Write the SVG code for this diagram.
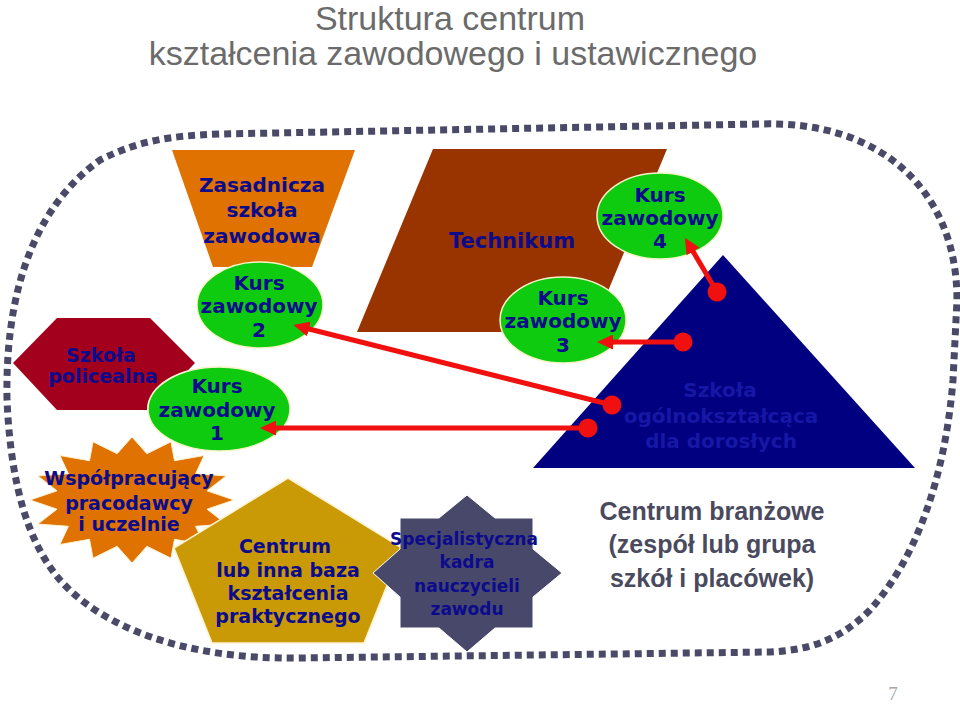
<svg xmlns="http://www.w3.org/2000/svg" width="960" height="705" viewBox="0 0 960 705">
<defs>
<style>
.t{font-family:"DejaVu Sans","Verdana",sans-serif;font-weight:bold;fill:#0B0B8C;text-anchor:middle}
.title{font-family:"Liberation Sans",Arial,sans-serif;font-size:34px;fill:#6B6B6B;text-anchor:middle}
.kurs{fill:#0FCB0F;stroke:#F4F4C8;stroke-width:1.5}
.conn{stroke:#F01010;stroke-width:5;fill:none;marker-start:url(#dot);marker-end:url(#arr)}
</style>
<marker id="arr" markerUnits="userSpaceOnUse" markerWidth="16" markerHeight="15" viewBox="0 0 16 15" refX="4" refY="7.5" orient="auto"><path d="M0,0 L16,7.5 L0,15 Z" fill="#F01010"/></marker>
<marker id="dot" markerUnits="userSpaceOnUse" markerWidth="20" markerHeight="20" viewBox="0 0 20 20" refX="10" refY="10" orient="auto"><circle cx="10" cy="10" r="9.5" fill="#F01010"/></marker>
<clipPath id="noK1"><path clip-rule="evenodd" d="M0,0 H960 V705 H0 Z M147,409 a72,43 0 1,0 144,0 a72,43 0 1,0 -144,0 Z"/></clipPath>
</defs>
<rect width="960" height="705" fill="#FFFFFF"/>
<g id="title">
<text class="title" x="450" y="30">Struktura centrum</text>
<text class="title" x="453" y="65">kształcenia zawodowego i ustawicznego</text>
</g>
<g id="border">
<path d="M 7 400 C 5 300, 30 210, 100 160 C 140 140, 170 136, 220 134 L 760 124 C 880 120, 957 190, 957 300 L 953 380 C 945 480, 915 560, 870 610 C 840 640, 810 650, 770 652 L 300 658 C 180 660, 100 625, 60 580 C 30 545, 11 490, 7 400 Z" fill="none" stroke="#4A4A68" stroke-width="7" stroke-dasharray="7 5"/>
</g>
<g id="zasadnicza">
<polygon points="172,150 355,150 312,267 213,267" fill="#DF7200"/>
<text class="t" font-size="20" x="262" y="192">Zasadnicza</text>
<text class="t" font-size="20" x="262" y="217">szkoła</text>
<text class="t" font-size="20" x="262" y="243">zawodowa</text>
</g>
<g id="technikum">
<polygon points="433,149 667,149 591,332 357,332" fill="#993300"/>
<text class="t" font-size="21" x="512" y="248">Technikum</text>
</g>
<g id="kurs2">
<ellipse class="kurs" cx="260" cy="305" rx="63" ry="43"/>
<text class="t" font-size="20" x="259" y="290">Kurs</text>
<text class="t" font-size="20" x="259" y="313">zawodowy</text>
<text class="t" font-size="20" x="259" y="337">2</text>
</g>
<g id="kurs1">
<ellipse class="kurs" cx="219" cy="409" rx="71" ry="42"/>
<text class="t" font-size="20" x="217" y="393">Kurs</text>
<text class="t" font-size="20" x="217" y="417">zawodowy</text>
<text class="t" font-size="20" x="217" y="440">1</text>
</g>
<g id="policealna">
<polygon points="13,363 57,318 150,318 195,363 150,410 57,410" fill="#A3001E" clip-path="url(#noK1)"/>
<text class="t" font-size="19" x="101" y="362">Szkoła</text>
<text class="t" font-size="19" x="103" y="383">policealna</text>
</g>
<g id="trojkat">
<polygon points="723,255 915,468 533,468" fill="#000080"/>
<text class="t" font-size="20" x="720" y="397" style="fill:#1717A6">Szkoła</text>
<text class="t" font-size="20" x="721" y="423" style="fill:#1717A6">ogólnokształcąca</text>
<text class="t" font-size="20" x="721" y="448" style="fill:#1717A6">dla dorosłych</text>
</g>
<g id="kurs3">
<ellipse class="kurs" cx="563" cy="320" rx="63" ry="43"/>
<text class="t" font-size="20" x="563" y="305">Kurs</text>
<text class="t" font-size="20" x="563" y="328">zawodowy</text>
<text class="t" font-size="20" x="563" y="352">3</text>
</g>
<g id="kurs4">
<ellipse class="kurs" cx="660" cy="216" rx="63" ry="43"/>
<text class="t" font-size="20" x="660" y="202">Kurs</text>
<text class="t" font-size="20" x="660" y="225">zawodowy</text>
<text class="t" font-size="20" x="660" y="248">4</text>
</g>
<g id="wspolpracujacy">
<polygon points="132,437 146.9,453.7 171,441.8 174.5,460.7 204.1,455.5 195.6,473.7 226.2,475.9 207,490.8 234,500 207,509.2 226.2,524.1 195.6,526.3 204.1,544.5 174.5,539.3 171,558.2 146.9,546.3 132,563 117.1,546.3 93,558.2 89.5,539.3 59.9,544.5 68.4,526.3 37.8,524.1 57,509.2 30,500 57,490.8 37.8,475.9 68.4,473.7 59.9,455.5 89.5,460.7 93,441.8 117.1,453.7" fill="#DF7200" stroke="#FFF2D0" stroke-width="1"/>
<text class="t" font-size="19" x="129" y="485">Współpracujący</text>
<text class="t" font-size="19" x="129" y="510">pracodawcy</text>
<text class="t" font-size="19" x="129" y="531">i uczelnie</text>
</g>
<g id="centrum">
<polygon points="288,478 402,548 364,643 212,643 174,548" fill="#C99A05" stroke="#FFF2D0" stroke-width="1.5"/>
<text class="t" font-size="19" x="285" y="553">Centrum</text>
<text class="t" font-size="19" x="288" y="577">lub inna baza</text>
<text class="t" font-size="19" x="288" y="600">kształcenia</text>
<text class="t" font-size="19" x="288" y="623">praktycznego</text>
</g>
<g id="kadra">
<polygon points="467,495 495,518 533,518 533,549 562,573 533,597 533,628 495,628 467,652 439,628 400,628 400,597 373,573 400,549 400,518 439,518" fill="#48486A" stroke="#FFFFFF" stroke-width="1"/>
<text class="t" font-size="17" x="464" y="545">Specjalistyczna</text>
<text class="t" font-size="17" x="467" y="568">kadra</text>
<text class="t" font-size="17" x="467" y="592">nauczycieli</text>
<text class="t" font-size="17" x="467" y="615">zawodu</text>
</g>
<g id="branzowe">
<text x="712" y="520" font-family="Liberation Sans, Arial, sans-serif" font-weight="bold" font-size="25" fill="#4A4A5E" text-anchor="middle">Centrum branżowe</text>
<text x="712" y="553" font-family="Liberation Sans, Arial, sans-serif" font-weight="bold" font-size="25" fill="#4A4A5E" text-anchor="middle">(zespół lub grupa</text>
<text x="712" y="587" font-family="Liberation Sans, Arial, sans-serif" font-weight="bold" font-size="25" fill="#4A4A5E" text-anchor="middle">szkół i placówek)</text>
</g>
<g id="connectors">
<line class="conn" x1="717" y1="292" x2="691" y2="248"/>
<line class="conn" x1="683" y1="342" x2="609" y2="342"/>
<line class="conn" x1="612" y1="405" x2="305" y2="328"/>
<line class="conn" x1="588" y1="428" x2="272" y2="428"/>
</g>
<text x="893" y="700" font-family="Liberation Serif, serif" font-size="19" fill="#A8A8A8" text-anchor="middle">7</text>
</svg>
